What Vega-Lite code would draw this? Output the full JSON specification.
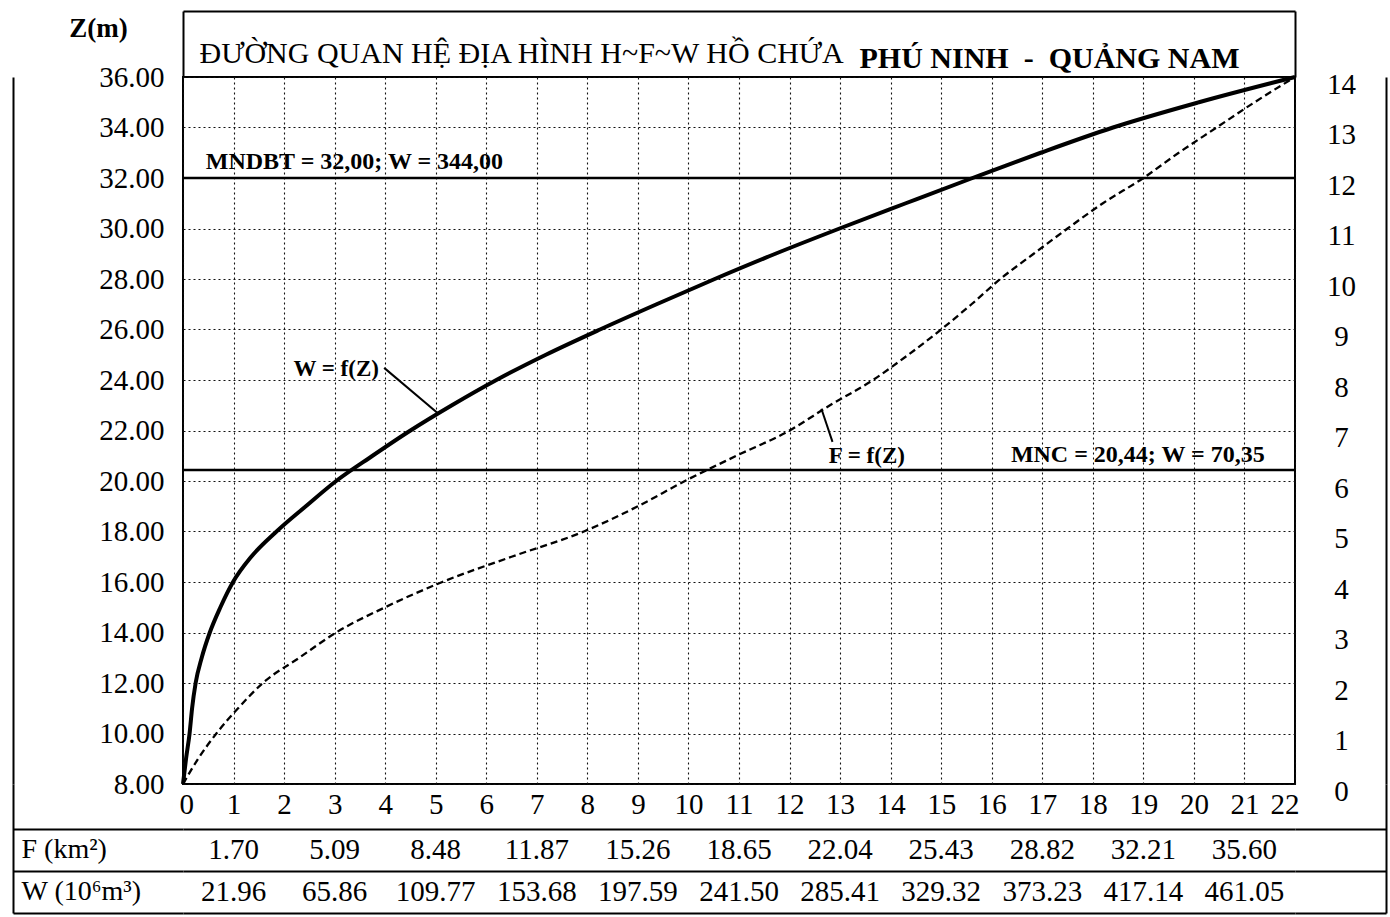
{
  "$schema": "https://vega.github.io/schema/vega-lite/v6.json",
  "background": "white",
  "padding": {"left": 12, "top": 9, "right": 3, "bottom": 3},
  "bounds": "flush",
  "spacing": 0,
  "datasets": {
    "curves": [
      {"curve": "W", "Z": 8, "u": 0}, {"curve": "W", "Z": 9, "u": 0.06}, {"curve": "W", "Z": 10, "u": 0.13},
      {"curve": "W", "Z": 11, "u": 0.18}, {"curve": "W", "Z": 12, "u": 0.25}, {"curve": "W", "Z": 13, "u": 0.37},
      {"curve": "W", "Z": 14, "u": 0.53}, {"curve": "W", "Z": 15, "u": 0.74}, {"curve": "W", "Z": 16, "u": 0.99},
      {"curve": "W", "Z": 17, "u": 1.35}, {"curve": "W", "Z": 18, "u": 1.85}, {"curve": "W", "Z": 19, "u": 2.43},
      {"curve": "W", "Z": 20, "u": 3.03}, {"curve": "W", "Z": 21, "u": 3.75}, {"curve": "W", "Z": 22, "u": 4.5},
      {"curve": "W", "Z": 23, "u": 5.32}, {"curve": "W", "Z": 24, "u": 6.2}, {"curve": "W", "Z": 25, "u": 7.18},
      {"curve": "W", "Z": 26, "u": 8.25}, {"curve": "W", "Z": 27, "u": 9.37}, {"curve": "W", "Z": 28, "u": 10.52},
      {"curve": "W", "Z": 29, "u": 11.72}, {"curve": "W", "Z": 30, "u": 12.99}, {"curve": "W", "Z": 31, "u": 14.3},
      {"curve": "W", "Z": 32, "u": 15.62}, {"curve": "W", "Z": 33, "u": 16.97}, {"curve": "W", "Z": 34, "u": 18.4},
      {"curve": "W", "Z": 35, "u": 20.1}, {"curve": "W", "Z": 36, "u": 22.0},
      {"curve": "F", "Z": 8, "u": 0}, {"curve": "F", "Z": 9, "u": 0.3}, {"curve": "F", "Z": 10, "u": 0.66},
      {"curve": "F", "Z": 11, "u": 1.09}, {"curve": "F", "Z": 12, "u": 1.58}, {"curve": "F", "Z": 13, "u": 2.3},
      {"curve": "F", "Z": 14, "u": 3.03}, {"curve": "F", "Z": 15, "u": 4.0}, {"curve": "F", "Z": 16, "u": 5.13},
      {"curve": "F", "Z": 17, "u": 6.5}, {"curve": "F", "Z": 18, "u": 7.93}, {"curve": "F", "Z": 19, "u": 9.0},
      {"curve": "F", "Z": 20, "u": 9.93}, {"curve": "F", "Z": 21, "u": 10.95}, {"curve": "F", "Z": 22, "u": 12.0},
      {"curve": "F", "Z": 23, "u": 12.8}, {"curve": "F", "Z": 24, "u": 13.65}, {"curve": "F", "Z": 25, "u": 14.35},
      {"curve": "F", "Z": 26, "u": 15.0}, {"curve": "F", "Z": 27, "u": 15.6}, {"curve": "F", "Z": 28, "u": 16.17},
      {"curve": "F", "Z": 29, "u": 16.83}, {"curve": "F", "Z": 30, "u": 17.5}, {"curve": "F", "Z": 31, "u": 18.2},
      {"curve": "F", "Z": 32, "u": 19.0}, {"curve": "F", "Z": 33, "u": 19.7}, {"curve": "F", "Z": 34, "u": 20.45},
      {"curve": "F", "Z": 35, "u": 21.2}, {"curve": "F", "Z": 36, "u": 22.0}
    ],
    "levels": [
      {"level": "MNDBT", "Z": 32.0, "label": "MNDBT = 32,00; W = 344,00"},
      {"level": "MNC", "Z": 20.44, "label": "MNC = 20,44; W = 70,35"}
    ],
    "labels": [
      {"curve": "W", "label": "W = f(Z)"},
      {"curve": "F", "label": "F = f(Z)"}
    ],
    "table": [
      {"u": 1, "F": 1.70, "W": 21.96}, {"u": 3, "F": 5.09, "W": 65.86}, {"u": 5, "F": 8.48, "W": 109.77},
      {"u": 7, "F": 11.87, "W": 153.68}, {"u": 9, "F": 15.26, "W": 197.59}, {"u": 11, "F": 18.65, "W": 241.50},
      {"u": 13, "F": 22.04, "W": 285.41}, {"u": 15, "F": 25.43, "W": 329.32}, {"u": 17, "F": 28.82, "W": 373.23},
      {"u": 19, "F": 32.21, "W": 417.14}, {"u": 21, "F": 35.60, "W": 461.05}
    ]
  },
  "vconcat": [
    {
      "width": 1112,
      "height": 707,
      "resolve": {"axis": {"x": "independent", "y": "independent"}},
      "data": {"name": "curves"},
      "layer": [
        {
          "transform": [{"filter": {"field": "curve", "equal": "W"}}],
          "mark": {"type": "line", "color": "black", "strokeWidth": 4, "interpolate": "monotone"},
          "encoding": {
            "x": {"field": "u", "type": "quantitative", "scale": {"domain": [0, 22], "nice": false, "zero": false},
              "axis": {"orient": "bottom", "values": [0,1,2,3,4,5,6,7,8,9,10,11,12,13,14,15,16,17,18,19,20,21,22], "title": null, "labelFontSize": 29, "labelPadding": 6, "labelFlush": true, "labelFlushOffset": 4, "labelOverlap": false, "grid": true, "gridColor": "#111", "gridDash": [2, 3], "gridWidth": 1.1}},
            "y": {"field": "Z", "type": "quantitative", "scale": {"domain": [8, 36], "nice": false, "zero": false},
              "axis": {"orient": "left", "offset": 170, "domain": true, "domainColor": "black", "domainWidth": 2, "values": [8,10,12,14,16,18,20,22,24,26,28,30,32,34,36], "format": ".2f", "labelFontSize": 29, "labelPadding": -151, "labelAlign": "right", "labelOverlap": false, "grid": true, "gridColor": "#111", "gridDash": [2, 3], "gridWidth": 1.1,
                "title": "Z(m)", "titleAngle": 0, "titleX": 85, "titleY": -49, "titleAlign": "center", "titleBaseline": "middle", "titleFontSize": 27, "titleFontWeight": "bold"}}
          }
        },
        {
          "transform": [{"filter": {"field": "curve", "equal": "F"}}],
          "mark": {"type": "line", "color": "black", "strokeWidth": 2.3, "strokeDash": [7, 4], "interpolate": "monotone"},
          "encoding": {
            "x": {"field": "u", "type": "quantitative",
              "axis": {"orient": "top", "offset": 66, "values": [-3.3633, 0, 22, 23.8006], "labels": false, "grid": false, "domain": true, "domainColor": "black", "domainWidth": 2, "ticks": true, "tickSize": -66, "tickColor": "black", "tickWidth": 2,
                "title": "ĐƯỜNG QUAN HỆ ĐỊA HÌNH H~F~W HỒ CHỨA", "titleFontWeight": "normal", "titleFontSize": 30, "titleX": 16, "titleY": 51, "titleAlign": "left", "titleBaseline": "alphabetic"}},
            "y": {"field": "Z", "type": "quantitative",
              "axis": {"orient": "right", "offset": 91, "domain": true, "domainColor": "black", "domainWidth": 2, "values": [8,10,12,14,16,18,20,22,24,26,28,30,32,34,36], "labelExpr": "(datum.value - 8) / 2", "labelAlign": "center", "labelPadding": -45, "labelOffset": 7, "labelFontSize": 29, "labelOverlap": false, "grid": false,
                "title": "PHÚ NINH\u00a0 -\u00a0 QUẢNG NAM", "titleAngle": 0, "titleFontWeight": "bold", "titleFontSize": 30, "titleX": -527, "titleY": -10, "titleAlign": "left", "titleBaseline": "alphabetic"}}
          }
        },
        {
          "data": {"name": "levels"},
          "mark": {"type": "rule", "color": "black", "strokeWidth": 2.5},
          "encoding": {"y": {"field": "Z", "type": "quantitative", "axis": null}}
        },
        {
          "data": {"name": "levels"},
          "transform": [{"filter": {"field": "level", "equal": "MNDBT"}}],
          "mark": {"type": "text", "align": "left", "baseline": "alphabetic", "dy": -9, "fontSize": 24, "fontWeight": "bold", "font": "Liberation Serif", "color": "black"},
          "encoding": {
            "x": {"datum": 0.45, "type": "quantitative", "axis": null},
            "y": {"field": "Z", "type": "quantitative", "axis": null},
            "text": {"field": "label"}
          }
        },
        {
          "data": {"name": "levels"},
          "transform": [{"filter": {"field": "level", "equal": "MNC"}}],
          "mark": {"type": "text", "align": "right", "baseline": "alphabetic", "dy": -8, "fontSize": 24, "fontWeight": "bold", "font": "Liberation Serif", "color": "black"},
          "encoding": {
            "x": {"datum": 21.4, "type": "quantitative", "axis": null},
            "y": {"field": "Z", "type": "quantitative", "axis": null},
            "text": {"field": "label"}
          }
        },
        {
          "data": {"name": "labels"},
          "transform": [{"filter": {"field": "curve", "equal": "W"}}],
          "mark": {"type": "text", "align": "center", "baseline": "middle", "fontSize": 23, "fontWeight": "bold", "font": "Liberation Serif", "color": "black"},
          "encoding": {
            "x": {"datum": 3.03, "type": "quantitative", "axis": null},
            "y": {"datum": 24.45, "type": "quantitative", "axis": null},
            "text": {"field": "label"}
          }
        },
        {
          "data": {"name": "labels"},
          "transform": [{"filter": {"field": "curve", "equal": "W"}}],
          "mark": {"type": "rule", "color": "black", "strokeWidth": 2},
          "encoding": {
            "x": {"datum": 3.98, "type": "quantitative", "axis": null},
            "y": {"datum": 24.48, "type": "quantitative", "axis": null},
            "x2": {"datum": 5.06},
            "y2": {"datum": 22.65}
          }
        },
        {
          "data": {"name": "labels"},
          "transform": [{"filter": {"field": "curve", "equal": "F"}}],
          "mark": {"type": "text", "align": "center", "baseline": "middle", "fontSize": 23, "fontWeight": "bold", "font": "Liberation Serif", "color": "black"},
          "encoding": {
            "x": {"datum": 13.53, "type": "quantitative", "axis": null},
            "y": {"datum": 21.0, "type": "quantitative", "axis": null},
            "text": {"field": "label"}
          }
        },
        {
          "data": {"name": "labels"},
          "transform": [{"filter": {"field": "curve", "equal": "F"}}],
          "mark": {"type": "rule", "color": "black", "strokeWidth": 2},
          "encoding": {
            "x": {"datum": 12.63, "type": "quantitative", "axis": null},
            "y": {"datum": 22.86, "type": "quantitative", "axis": null},
            "x2": {"datum": 12.85},
            "y2": {"datum": 21.55}
          }
        }
      ]
    },
    {
      "width": 1112,
      "height": 129,
      "view": {"stroke": null},
      "data": {"name": "table"},
      "resolve": {"axis": {"y": "independent"}},
      "layer": [
        {
          "mark": {"type": "text", "baseline": "middle", "fontSize": 29, "font": "Liberation Serif", "color": "black"},
          "encoding": {
            "x": {"field": "u", "type": "quantitative", "scale": {"domain": [0, 22], "nice": false, "zero": false}, "axis": null},
            "y": {"datum": "F (km²)", "type": "nominal",
              "scale": {"type": "band", "domain": ["F (km²)", "W (10⁶m³)"], "paddingInner": 0, "paddingOuter": 0.5357, "align": 1},
              "axis": {"orient": "left", "offset": 170, "title": null, "labelAlign": "left", "labelBaseline": "middle", "labelPadding": 162, "labelFontSize": 28, "ticks": true, "tickBand": "extent", "tickSize": -170, "tickColor": "black", "tickWidth": 2, "grid": true, "gridColor": "black", "gridWidth": 2, "gridDash": [], "domain": true, "domainColor": "black", "domainWidth": 2}},
            "text": {"field": "F", "type": "quantitative", "format": ".2f"}
          }
        },
        {
          "mark": {"type": "text", "baseline": "middle", "fontSize": 29, "font": "Liberation Serif", "color": "black"},
          "encoding": {
            "x": {"field": "u", "type": "quantitative", "axis": null},
            "y": {"datum": "W (10⁶m³)", "type": "nominal",
              "axis": {"orient": "right", "offset": 91, "title": null, "labels": false, "ticks": true, "tickBand": "extent", "tickSize": -91, "tickColor": "black", "tickWidth": 2, "grid": false, "domain": true, "domainColor": "black", "domainWidth": 2}},
            "text": {"field": "W", "type": "quantitative", "format": ".2f"}
          }
        }
      ]
    }
  ],
  "config": {
    "font": "Liberation Serif",
    "view": {"stroke": "black", "strokeWidth": 2},
    "axis": {"labelFont": "Liberation Serif", "labelColor": "black", "titleFont": "Liberation Serif", "titleColor": "black", "domain": false, "ticks": false}
  }
}
